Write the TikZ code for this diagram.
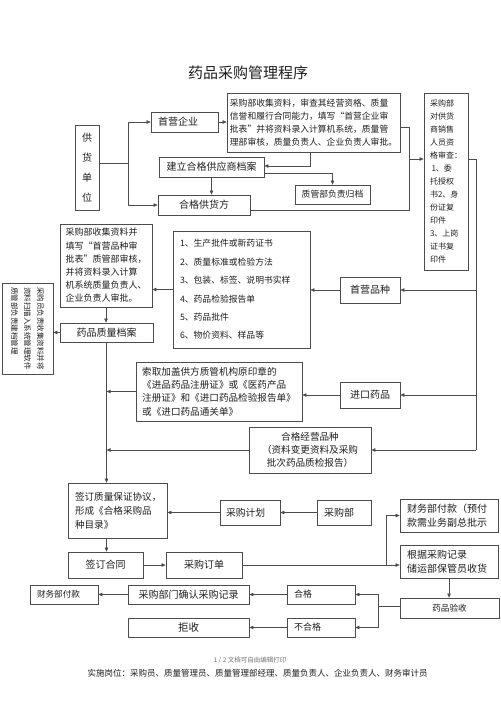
\documentclass[tikz,border=0pt]{standalone}
\usepackage{fontspec}
\setmainfont{Noto Sans CJK SC}
\usetikzlibrary{arrows.meta}
\definecolor{lc}{gray}{0.3}
\definecolor{tc}{gray}{0.12}
\newcommand{\fs}[2]{\fontsize{#1}{#2}\selectfont}
\begin{document}
\begin{tikzpicture}[x=1pt,y=-1pt,
  box/.style={draw=lc, line width=0.7pt, inner sep=0pt, text=tc, align=center},
  lbox/.style={box, align=left, inner xsep=#1},
  arr/.style={draw=lc, line width=0.6pt, -{Triangle[length=4pt,width=3.4pt]}},
  ln/.style={draw=lc, line width=0.6pt}]
\useasboundingbox (0,0) rectangle (500,708);
\fill[white] (0,0) rectangle (500,708);

\node[text=tc, font=\fs{15}{18}] (title) at (248,73) {药品采购管理程序};

\node[box, minimum width=24pt, minimum height=85pt, font=\fs{10}{20}] (gh) at (87,167.5) {供\\货\\单\\位};
\node[lbox=7pt, text width=53pt, minimum height=20pt, font=\fs{10}{12}] (syqy) at (184.5,122) {首营企业};
\node[box, minimum width=173pt, minimum height=59pt, font=\fs{8.8}{13}, align=left] (big) at (313.5,122.5) {采购部收集资料，审查其经营资格、质量\\信誉和履行合同能力，填写“首营企业审\\批表”并将资料录入计算机系统，质量管\\理部审核，质量负责人、企业负责人审批。};
\node[box, minimum width=105pt, minimum height=20pt, font=\fs{10}{12}] (jl) at (211.5,167) {建立合格供应商档案};
\node[box, minimum width=92pt, minimum height=20pt, font=\fs{10}{12}] (hggh) at (204,205) {合格供货方};
\node[box, minimum width=75pt, minimum height=19pt, font=\fs{8.8}{12}] (zgb) at (332.5,194.5) {质管部负责归档};
\node[box, minimum width=44pt, minimum height=177pt, font=\fs{8}{13}, align=left] (qual) at (446,181.5) {采购部\\对供货\\商销售\\人员资\\格审查：\\\hspace*{1.5pt}1、委\\托授权\\书2、身\\份证复\\印件\\3、上岗\\证书复\\印件};

\node[lbox=7pt, text width=123pt, minimum height=117pt, font=\fs{8.8}{18.4}] (list) at (241.5,289.5) {1、生产批件或新药证书\\2、质量标准或检验方法\\3、包装、标签、说明书实样\\4、药品检验报告单\\5、药品批件\\6、物价资料、样品等};
\node[box, minimum width=60pt, minimum height=26pt, font=\fs{10}{12}] (syps) at (370,290) {首营品种};
\node[box, minimum width=92pt, minimum height=83pt, font=\fs{9}{13.2}, align=left] (cgsj) at (106,265.5) {采购部收集资料并\\填写“首营品种审\\批表”质管部审核，\\并将资料录入计算\\机系统质量负责人、\\企业负责人审批。};
\node[box, minimum width=93pt, minimum height=19pt, font=\fs{10}{12}] (ypda) at (106.5,332.5) {药品质量档案};
\node[box, rotate=-90, minimum width=91pt, minimum height=51pt, font=\fs{7.5}{13}, align=left] (vbox) at (27.5,328.5) {采购员负责收集资料并将\\资料扫描入系统管理软件\\质管部负责建档管理};

\node[box, minimum width=166pt, minimum height=59pt, font=\fs{9.6}{13.3}, align=left] (suoqu) at (219,391.5) {索取加盖供方质管机构原印章的\\《进品药品注册证》或《医药产品\\注册证》和《进口药品检验报告单》\\或《进口药品通关单》};
\node[box, minimum width=60pt, minimum height=26pt, font=\fs{10}{12}] (jkyp) at (370,395) {进口药品};
\node[box, minimum width=122pt, minimum height=46pt, font=\fs{9.6}{13}] (hgjy) at (310,450) {合格经营品种\\（资料变更资料及采购\\批次药品质检报告）};

\node[lbox=7pt, text width=85pt, minimum height=55pt, font=\fs{9.6}{14}] (qdzl) at (117.5,510.5) {签订质量保证协议，\\形成《合格采购品\\种目录》};
\node[lbox=6pt, text width=48pt, minimum height=25pt, font=\fs{9.8}{12}] (cgjh) at (250,512.5) {采购计划};
\node[lbox=7pt, text width=40pt, minimum height=25pt, font=\fs{10}{12}] (cgb) at (344,512.5) {采购部};
\node[box, minimum width=75pt, minimum height=26pt, font=\fs{10}{12}] (qdht) at (105.5,565) {签订合同};
\node[box, minimum width=76pt, minimum height=26pt, font=\fs{10}{12}] (cgdd) at (204,565) {采购订单};
\node[lbox=7pt, text width=84pt, minimum height=33pt, font=\fs{10}{14}] (cwfk1) at (449,515.5) {财务部付款（预付\\款需业务副总批示};
\node[lbox=7pt, text width=84pt, minimum height=33pt, font=\fs{10}{14}] (gjcg) at (449,561.5) {根据采购记录\\储运部保管员收货};
\node[box, minimum width=99pt, minimum height=20pt, font=\fs{8.6}{12}] (ypys) at (449.5,608) {药品验收};
\node[lbox=7pt, text width=54pt, minimum height=19pt, font=\fs{9}{12}] (hg) at (321,594.5) {合格};
\node[lbox=7pt, text width=54pt, minimum height=19pt, font=\fs{9}{12}] (bhg) at (321,627.5) {不合格};
\node[box, minimum width=121pt, minimum height=19pt, font=\fs{10}{12}] (qrjl) at (188.5,594.5) {采购部门确认采购记录};
\node[lbox=7pt, text width=54pt, minimum height=19pt, font=\fs{8.6}{12}] (cwfk2) at (64,594.5) {财务部付款};
\node[box, minimum width=121pt, minimum height=19pt, font=\fs{10.5}{12}] (js) at (188.5,627.5) {拒收};

\node[text=black!55, font=\fs{6.5}{8}] (page) at (250,660) {1 / 2 文档可自由编辑打印};
\node[text=tc, font=\fs{8.5}{10}] (post) at (257.5,673) {实施岗位：采购员、质量管理员、质量管理部经理、质量负责人、企业负责人、财务审计员};

% connectors
\coordinate (j1) at (128,163);
\draw[ln] (gh.east |- j1) -- (j1);
\draw[arr] (j1) |- (syqy.west);
\draw[arr] (j1) |- (hggh.west);
\draw[arr] (syqy.east) -- (syqy.east -| big.west);
\coordinate (b1) at (310,166);
\draw[arr] (big.south -| b1) -- (b1) -- (b1 -| jl.east);
\coordinate (b2) at (333,173);
\draw[arr] (jl.east |- b2) -| (zgb.north);
\draw[arr] (jl.south) -- (jl.south |- hggh.north);
\coordinate (j2) at (409,159);
\coordinate (b3) at (409,127);
\draw[ln] (big.east |- b3) -- (b3) -- (j2);
\coordinate (b4) at (409,210);
\draw[ln] (hggh.east |- b4) -- (b4) -- (j2);
\draw[arr] (j2) -- (j2 -| qual.west);
\coordinate (r1) at (476,159);
\coordinate (r2) at (476,450);
\draw[ln] (qual.east |- r1) -- (r1) -- (r2);
\draw[arr] (r1 |- syps.east) -- (syps.east);
\draw[arr] (r1 |- jkyp.east) -- (jkyp.east);
\draw[arr] (r2) -- (r2 -| hgjy.east);
\draw[arr] (syps.west) -- (syps.west -| list.east);
\draw[arr] (list.west) -- (list.west -| cgsj.east);
\draw[arr] (cgsj.south) -- (cgsj.south |- ypda.north);
\draw[arr] (ypda.west) -- (ypda.west -| vbox.north);
\draw[arr] (ypda.south) -- (ypda.south |- qdzl.north);
\draw[arr] (suoqu.west) -- (suoqu.west -| ypda.south);
\draw[arr] (hgjy.west) -- (hgjy.west -| ypda.south);
\draw[arr] (jkyp.west) -- (jkyp.west -| suoqu.east);
\draw[arr] (cgb.west) -- (cgjh.east);
\draw[arr] (cgjh.west) -- (cgjh.west -| qdzl.east);
\draw[arr] (ypda.south |- qdzl.south) -- (ypda.south |- qdht.north);
\draw[arr] (qdht.east) -- (cgdd.west);
\coordinate (j3) at (386,565);
\draw[arr] (cgdd.east) -- (j3 -| gjcg.west);
\draw[arr] (j3) |- (cwfk1.west);
\draw[arr] (gjcg.south) -- (gjcg.south |- ypys.north);
\coordinate (j4) at (378,606);
\draw[ln] (ypys.west |- j4) -- (j4);
\draw[arr] (j4) |- (hg.east);
\draw[arr] (j4) |- (bhg.east);
\draw[arr] (hg.west) -- (qrjl.east);
\draw[arr] (qrjl.west) -- (cwfk2.east);
\draw[arr] (bhg.west) -- (js.east);
\end{tikzpicture}
\end{document}
